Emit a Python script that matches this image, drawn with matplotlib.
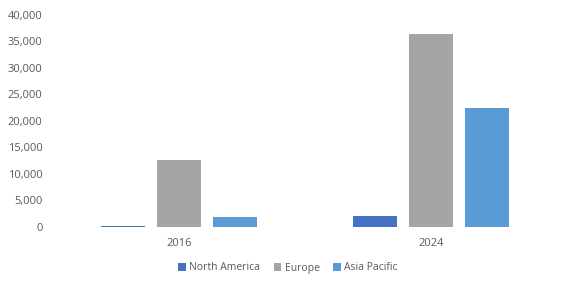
import matplotlib
matplotlib.use("Agg")
import matplotlib.pyplot as plt
import numpy as np

categories = ["2016", "2024"]
series_names = ["North America", "Europe", "Asia Pacific"]
north_america = [150, 2020]
europe = [12550, 36350]
asia_pacific = [1830, 22380]
colors = ["#4472C4", "#A5A5A5", "#5B9BD5"]

plt.rcParams['font.family'] = ['Open Sans', 'DejaVu Sans']

fig = plt.figure(figsize=(5.71, 2.88), dpi=100)
ax = fig.add_axes([53/571, 61.3/288, (557-53)/571, (226.7-14.7)/288])

x = np.arange(len(categories))
w = 44/252
step = 56/252
for i, (vals, name, c) in enumerate(zip([north_america, europe, asia_pacific], series_names, colors)):
    ax.bar(x + (i-1)*step, vals, width=w, color=c, label=name)

ax.set_xlim(-0.5, 1.5)
ax.set_ylim(0, 40000)
ax.set_yticks(np.arange(0, 40001, 5000))
ax.set_yticklabels([f"{v:,}" for v in range(0, 40001, 5000)])
ax.set_xticks(x)
ax.set_xticklabels(categories)
for s in ax.spines.values():
    s.set_visible(False)
ax.tick_params(axis='both', length=0, labelsize=8, colors='#595959')
ax.tick_params(axis='y', pad=7.5)
ax.tick_params(axis='x', pad=8)

leg = fig.legend(loc='center', bbox_to_anchor=(288/571, 1-268/288), ncol=3, frameon=False,
                 fontsize=7.5, handlelength=0.7, handleheight=0.7, handletextpad=0.35, columnspacing=1.3)
for t in leg.get_texts():
    t.set_color('#595959')

fig.savefig("out.png", dpi=100)
